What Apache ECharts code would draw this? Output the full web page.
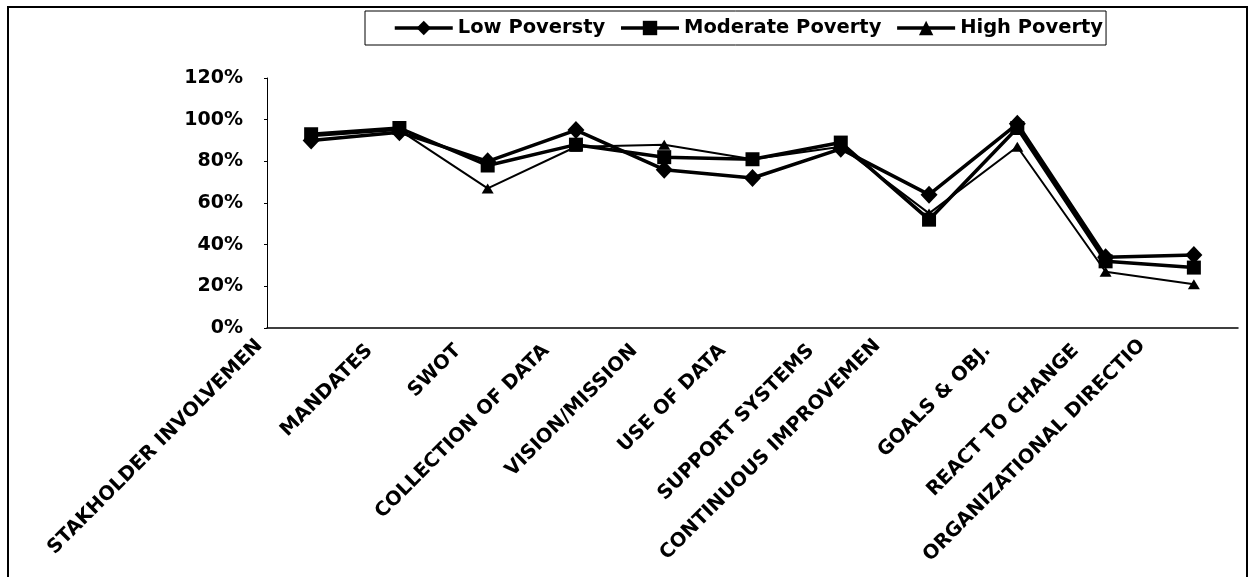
<!DOCTYPE html>
<html>
<head>
<meta charset="utf-8">
<script src="https://cdn.jsdelivr.net/npm/echarts@6/dist/echarts.min.js"></script>
<style>
html,body{margin:0;padding:0;background:#fff;}
#chart{width:1252px;height:577px;}
</style>
</head>
<body>
<div id="chart"></div>
<script>
const categories = ["STAKHOLDER INVOLVEMEN", "MANDATES", "SWOT", "COLLECTION OF DATA", "VISION/MISSION", "USE OF DATA", "SUPPORT SYSTEMS", "CONTINUOUS IMPROVEMEN", "GOALS & OBJ.", "REACT TO CHANGE", "ORGANIZATIONAL DIRECTIO"];
const lowPoverty = [90, 94, 80, 95, 76, 72, 86, 64, 98, 34, 35];
const moderatePoverty = [93, 96, 78, 88, 82, 81, 89, 52, 96, 32, 29];
const highPoverty = [92, 95, 67, 87, 88, 81, 87, 55, 87, 27, 21];
const seriesNames = ["Low Poversty", "Moderate Poverty", "High Poverty"];
const yTicks = { min: 0, max: 120, interval: 20 };

const chart = echarts.init(document.getElementById('chart'), null, { renderer: 'canvas' });
const font = 'DejaVu Sans';
const labelFont = { fontFamily: font, fontWeight: 'bold', fontSize: 19.5, color: '#000' };
chart.setOption({
  animation: false,
  backgroundColor: '#fff',
  graphic: [{
    type: 'rect', shape: { x: 8, y: 7, width: 1239, height: 580 },
    style: { fill: 'none', stroke: '#000', lineWidth: 2 }, silent: true
  }],
  legend: {
    left: 365, top: 11,
    padding: [7, 3, 7, 28],
    borderColor: '#000', borderWidth: 1,
    itemWidth: 58, itemHeight: 18, itemGap: 14,
    lineStyle: { width: 3.5, color: '#000' },
    textStyle: { fontFamily: font, fontWeight: 'bold', fontSize: 19.5, color: '#000' },
    data: seriesNames
  },
  grid: { left: 267, right: 14, top: 78, bottom: 249, containLabel: false },
  xAxis: {
    type: 'category', data: categories, boundaryGap: true,
    axisLine: { lineStyle: { color: '#000', width: 1.5 } },
    axisTick: { show: false },
    axisLabel: Object.assign({
      interval: 0, rotate: 45, margin: -10,
      padding: [0, 42, 0, 0],
      formatter: function (v) { return v.length > 19 ? '{l|' + v + '}' : '{s|' + v + '}'; },
      rich: {
        s: Object.assign({ padding: [0, 0, 0, 0] }, labelFont),
        l: Object.assign({ padding: [0, 12, 38, 0] }, labelFont)
      }
    }, labelFont),
    splitLine: { show: false }
  },
  yAxis: {
    type: 'value', min: yTicks.min, max: yTicks.max, interval: yTicks.interval,
    axisLine: { show: true, lineStyle: { color: '#000', width: 1 } },
    axisTick: { show: true, length: 3, lineStyle: { color: '#000' } },
    splitLine: { show: false },
    axisLabel: Object.assign({ margin: 24, formatter: '{value}%' }, labelFont, { fontSize: 19 })
  },
  series: [
    { name: seriesNames[0], type: 'line', data: lowPoverty, symbol: 'diamond', symbolSize: [17, 18],
      itemStyle: { color: '#000' }, lineStyle: { color: '#000', width: 3.5 } },
    { name: seriesNames[1], type: 'line', data: moderatePoverty, symbol: 'rect', symbolSize: 14,
      itemStyle: { color: '#000' }, lineStyle: { color: '#000', width: 3.5 } },
    { name: seriesNames[2], type: 'line', data: highPoverty, symbol: 'triangle', symbolSize: [12, 10],
      itemStyle: { color: '#000' }, lineStyle: { color: '#000', width: 2 } }
  ]
});
</script>
</body>
</html>
